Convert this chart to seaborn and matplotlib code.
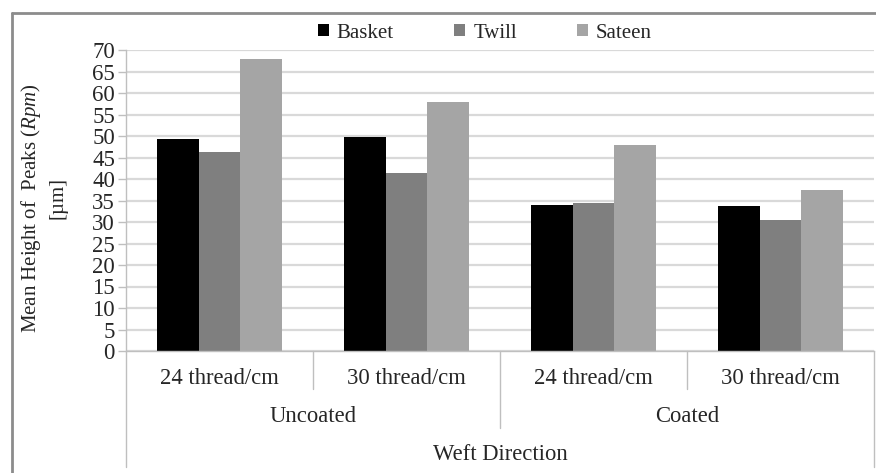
import matplotlib
matplotlib.use("Agg")
import matplotlib.pyplot as plt
import seaborn as sns
import pandas as pd
from matplotlib.patches import Rectangle
from matplotlib.lines import Line2D
import matplotlib.transforms as mtransforms

# data
coatings = ["Uncoated", "Uncoated", "Coated", "Coated"]
densities = ["24 thread/cm", "30 thread/cm", "24 thread/cm", "30 thread/cm"]
weaves = ["Basket", "Twill", "Sateen"]
basket = [49.3, 49.8, 34.0, 33.8]
twill = [46.3, 41.3, 34.4, 30.4]
sateen = [67.9, 58.0, 47.8, 37.4]
weave_colors = ["#000000", "#7f7f7f", "#a5a5a5"]
y_ticks = list(range(0, 75, 5))

groups = [f"{c} {d}" for c, d in zip(coatings, densities)]
df = pd.DataFrame({
    "group": groups * 3,
    "weave": [w for w in weaves for _ in groups],
    "value": basket + twill + sateen,
})

sns.set_style("white")
plt.rcParams["font.family"] = ["Liberation Serif", "DejaVu Serif"]
plt.rcParams["mathtext.fontset"] = "custom"
plt.rcParams["mathtext.it"] = "Liberation Serif:italic"
plt.rcParams["mathtext.rm"] = "Liberation Serif"

W, H = 876, 473
FS = 16.3
fig = plt.figure(figsize=(W / 100, H / 100), dpi=100)
ax = fig.add_axes([126 / W, 1 - 351 / H, (874 - 126) / W, 301 / H])

sns.barplot(data=df, x="group", y="value", hue="weave", order=groups,
            hue_order=weaves, palette=weave_colors, width=0.67, saturation=1,
            linewidth=0, errorbar=None, legend=False, ax=ax)

ax.set_xlim(-0.5, 3.5)
ax.set_ylim(0, 70)
ax.set_yticks(y_ticks)
ax.set_yticklabels([str(t) for t in y_ticks], fontsize=16.5)
ax.tick_params(axis="y", length=6, width=1, color="#bfbfbf", pad=2, left=True)
ax.tick_params(axis="x", length=0, labelbottom=False)
ax.set_xlabel("")
ax.set_ylabel("")
ax.yaxis.grid(True, color="#d9d9d9", linewidth=1.6)
ax.set_axisbelow(True)
for side in ["top", "right"]:
    ax.spines[side].set_visible(False)
for side in ["left", "bottom"]:
    ax.spines[side].set_color("#bfbfbf")
    ax.spines[side].set_linewidth(1)

# multi-level category axis
trans = mtransforms.blended_transform_factory(ax.transData, ax.transAxes)
line_kw = dict(color="#bfbfbf", linewidth=1, transform=trans, clip_on=False)
ax.add_line(Line2D([0.5, 0.5], [0, -38 / 301], **line_kw))
ax.add_line(Line2D([2.5, 2.5], [0, -38 / 301], **line_kw))
ax.add_line(Line2D([1.5, 1.5], [0, -77 / 301], **line_kw))
ax.add_line(Line2D([-0.5, -0.5], [0, -116 / 301], **line_kw))
ax.add_line(Line2D([3.5, 3.5], [0, -116 / 301], **line_kw))

for i, d in enumerate(densities):
    ax.text(i, -27 / 301, d, transform=trans, ha="center", va="center", fontsize=FS)
ax.text(0.5, -66 / 301, coatings[0], transform=trans, ha="center", va="center", fontsize=FS)
ax.text(2.5, -66 / 301, coatings[2], transform=trans, ha="center", va="center", fontsize=FS)
ax.text(1.5, -104 / 301, "Weft Direction", transform=trans, ha="center", va="center", fontsize=FS)

# y label in two lines
fig.text(31 / W, 1 - 208 / H, "Mean Height of  Peaks ($\\mathit{Rpm}$)",
         rotation=90, ha="center", va="center", fontsize=15)
fig.text(58 / W, 1 - 198 / H, "[\u00b5m]", rotation=90, ha="center", va="center", fontsize=15)

# legend
handles = [Rectangle((0, 0), 1, 1, facecolor=c, edgecolor="none") for c in weave_colors]
fig.legend(handles, weaves, loc="center", bbox_to_anchor=(485 / W, 1 - 33 / H),
           ncol=3, frameon=False, fontsize=15, handlelength=0.5, handleheight=0.5,
           handletextpad=0.4, columnspacing=2.9)

# chart frame (top and left edges visible in the crop)
fig.add_artist(Line2D([12 / W, 1], [1 - 13 / H, 1 - 13 / H], color="#8c8c8c", linewidth=2,
                      transform=fig.transFigure))
fig.add_artist(Line2D([12 / W, 12 / W], [0, 1 - 13 / H], color="#8c8c8c", linewidth=2,
                      transform=fig.transFigure))

fig.savefig("out.png", dpi=100)
